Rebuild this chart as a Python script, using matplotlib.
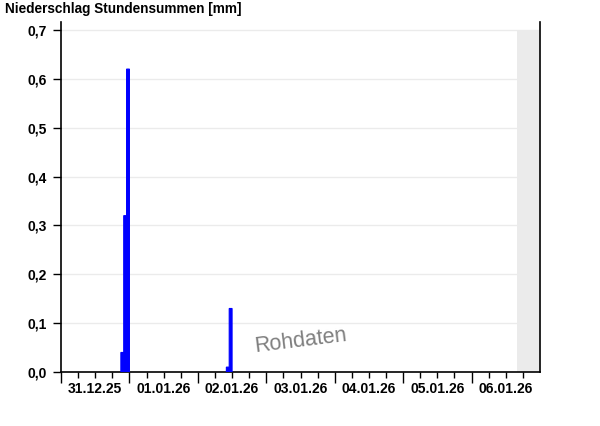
import datetime as dt

import matplotlib
matplotlib.use("Agg")
import matplotlib.dates as mdates
import matplotlib.pyplot as plt
from matplotlib.ticker import FuncFormatter

# hourly precipitation sums (start of hour, mm)
zeiten = [
    "2025-12-31 21:00",
    "2025-12-31 22:00",
    "2025-12-31 23:00",
    "2026-01-02 10:00",
    "2026-01-02 11:00",
]
werte = [0.04, 0.32, 0.62, 0.01, 0.13]

start = "2025-12-31 00:00"
ende = "2026-01-07 00:00"
daten_ende = "2026-01-06 16:00"  # after this: no data yet (grey)

titel = "Niederschlag Stundensummen [mm]"
wasserzeichen = "Rohdaten"

plt.rcParams["font.family"] = ["Liberation Sans", "DejaVu Sans"]

t = [dt.datetime.strptime(z, "%Y-%m-%d %H:%M") for z in zeiten]
t0 = dt.datetime.strptime(start, "%Y-%m-%d %H:%M")
t1 = dt.datetime.strptime(ende, "%Y-%m-%d %H:%M")
tg = dt.datetime.strptime(daten_ende, "%Y-%m-%d %H:%M")

fig = plt.figure(figsize=(6, 4.26), dpi=100)
ax = fig.add_axes([61 / 600, 1 - 372 / 426, 479 / 600, 350 / 426])

ymax = 0.7
ytop = ymax * 350 / 342

balken = ax.bar(mdates.date2num(t), werte, width=1 / 24, align="edge", color="#0000ff",
                edgecolor="#0000ff", linewidth=0.8, zorder=3)
for b in balken:
    b.set_snap(False)
ax.fill_between([mdates.date2num(tg), mdates.date2num(t1)], 0, ymax, color="#ebebeb", lw=0, zorder=1)

ax.set_xlim(t0, t1)
ax.set_ylim(0, ytop)
ax.set_yticks([i / 10 for i in range(8)])
ax.yaxis.set_major_formatter(FuncFormatter(lambda v, p: f"{v:.1f}".replace(".", ",")))
ax.yaxis.grid(True, color="#ebebeb", lw=1, zorder=0)

ax.xaxis.set_major_locator(mdates.DayLocator())
ax.xaxis.set_major_formatter(FuncFormatter(lambda v, p: ""))
ax.xaxis.set_minor_locator(mdates.HourLocator(byhour=[6, 12, 18]))
ax.xaxis.set_minor_formatter(
    FuncFormatter(lambda v, p: mdates.num2date(v).strftime("%d.%m.%y") if mdates.num2date(v).hour == 12 else "")
)

ax.tick_params(axis="y", length=6, width=1, labelsize=10, pad=4)
ax.tick_params(axis="x", which="major", length=8, width=1)
ax.tick_params(axis="x", which="minor", length=4, width=1, labelsize=10, pad=3)
for lab in ax.get_yticklabels() + ax.get_xticklabels(minor=True):
    lab.set_fontweight("bold")
# no tick mark drawn at the right edge
ax.get_xticklines()[-2].set_visible(False)

ax.spines["top"].set_visible(False)
for s in ["left", "right", "bottom"]:
    ax.spines[s].set_linewidth(1.2)

fig.text(5 / 600, 1 - 9 / 426, titel, fontsize=9.8, fontweight="bold", va="center", ha="left")
ax.text(0.50, 0.09, wasserzeichen, transform=ax.transAxes, fontsize=15.5, color="#7f7f7f",
        rotation=7, ha="center", va="center", zorder=4)

fig.savefig("out.png", dpi=100)
